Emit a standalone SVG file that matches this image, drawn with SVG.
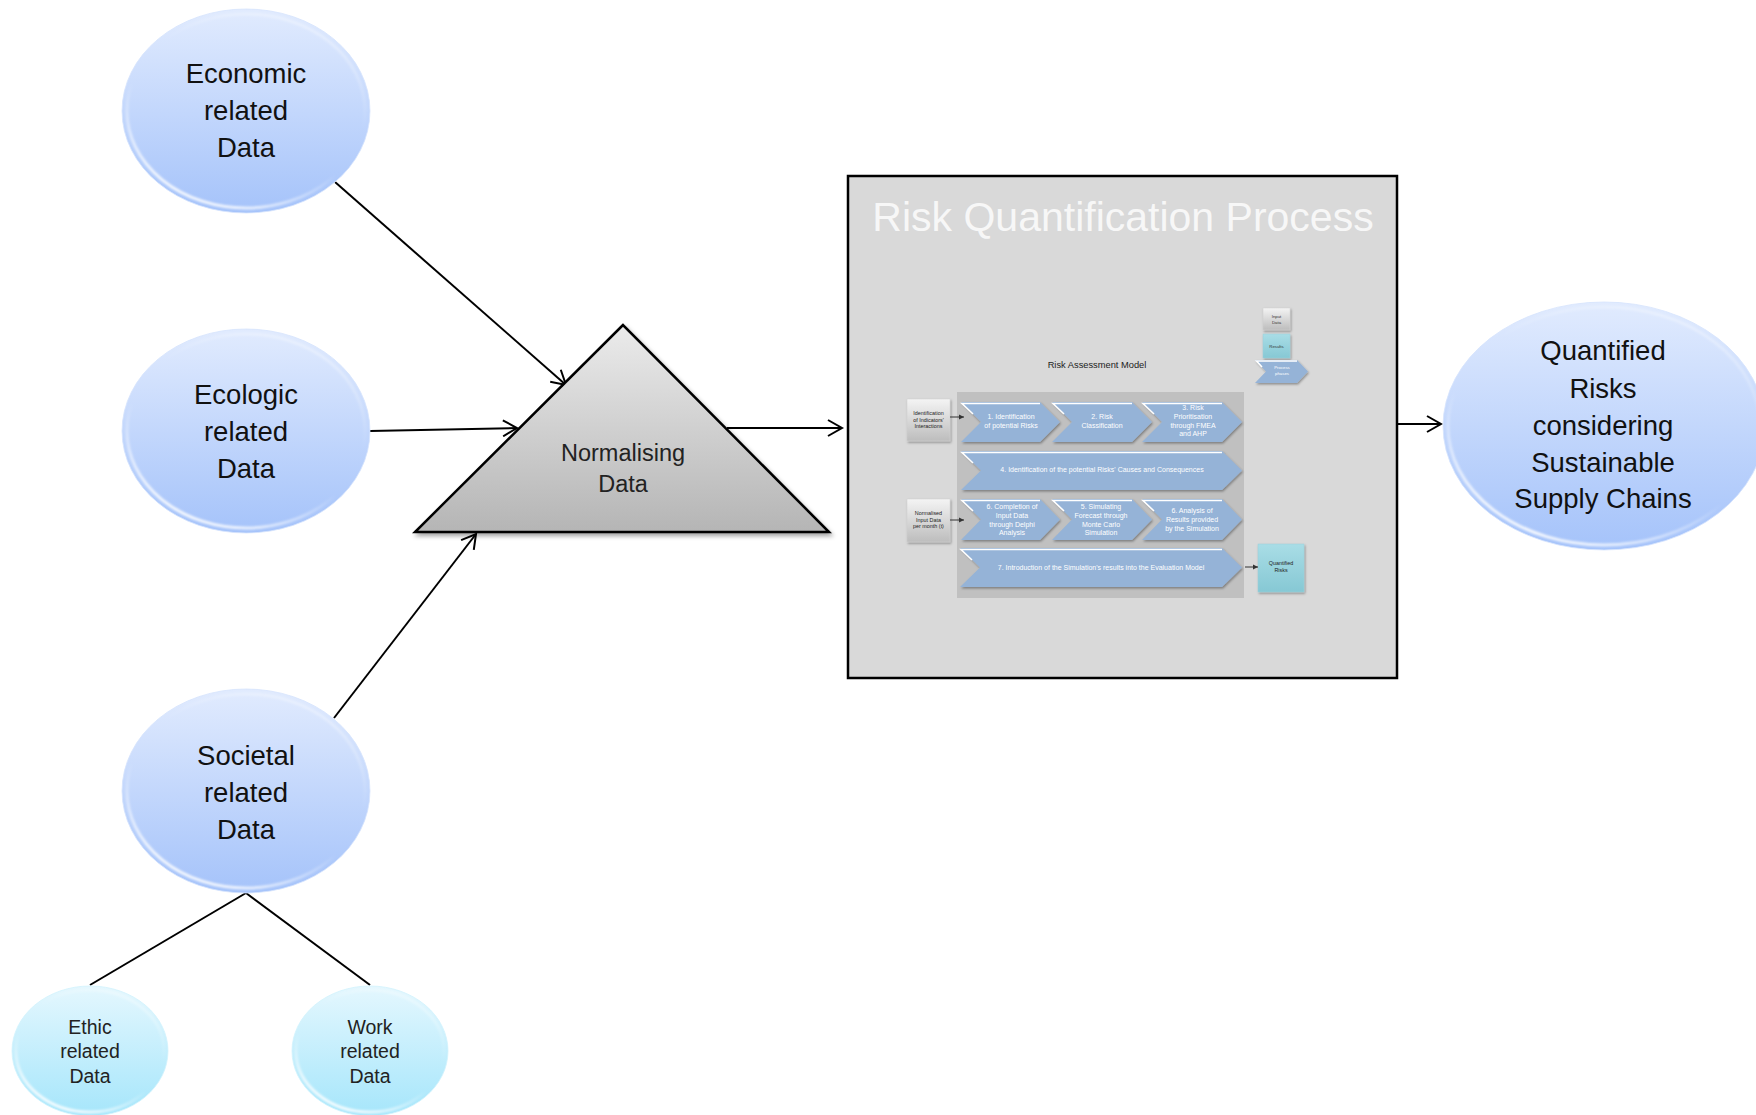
<svg xmlns="http://www.w3.org/2000/svg" width="1756" height="1115" viewBox="0 0 1756 1115">
<defs>
<linearGradient id="gBlue" x1="0" y1="0" x2="0" y2="1">
<stop offset="0" stop-color="#e1ebfe"/>
<stop offset="1" stop-color="#a5c3fa"/>
</linearGradient>
<linearGradient id="gCyan" x1="0" y1="0" x2="0" y2="1">
<stop offset="0" stop-color="#e4f7fe"/>
<stop offset="1" stop-color="#a6e6fb"/>
</linearGradient>
<linearGradient id="gRim" x1="0.75" y1="0.05" x2="0.25" y2="0.95">
<stop offset="0" stop-color="#ffffff" stop-opacity="0.35"/>
<stop offset="0.35" stop-color="#ffffff" stop-opacity="0"/>
<stop offset="0.6" stop-color="#ffffff" stop-opacity="0"/>
<stop offset="1" stop-color="#ffffff" stop-opacity="0.9"/>
</linearGradient>
<linearGradient id="gTri" x1="0" y1="0" x2="0" y2="1">
<stop offset="0" stop-color="#ebebeb"/>
<stop offset="1" stop-color="#b5b5b5"/>
</linearGradient>
<linearGradient id="gGrayBox" x1="0" y1="0" x2="0" y2="1">
<stop offset="0" stop-color="#f4f4f4"/>
<stop offset="1" stop-color="#bdbdbd"/>
</linearGradient>
<linearGradient id="gTeal" x1="0" y1="0" x2="0" y2="1">
<stop offset="0" stop-color="#a9dde6"/>
<stop offset="1" stop-color="#86c8d4"/>
</linearGradient>
<filter id="shadow" x="-10%" y="-10%" width="130%" height="130%">
<feDropShadow dx="2" dy="3" stdDeviation="2" flood-color="#000" flood-opacity="0.35"/>
</filter>
<filter id="sShadow" x="-10%" y="-10%" width="130%" height="140%">
<feDropShadow dx="1" dy="1.5" stdDeviation="1" flood-color="#000" flood-opacity="0.35"/>
</filter>
<filter id="soft" x="-5%" y="-5%" width="110%" height="110%">
<feGaussianBlur stdDeviation="0.9"/>
</filter>
<marker id="arr" markerUnits="userSpaceOnUse" markerWidth="18" markerHeight="18" refX="15" refY="9" orient="auto">
<path d="M1,1 L15,9 L1,17" fill="none" stroke="#000" stroke-width="2"/>
</marker>
<marker id="arrS" markerUnits="userSpaceOnUse" markerWidth="6" markerHeight="6" refX="5" refY="3" orient="auto">
<path d="M0,0.5 L5,3 L0,5.5 Z" fill="#333"/>
</marker>
</defs>
<style>
.big{font-family:"Liberation Sans",Arial,sans-serif;font-size:27.5px;fill:#111;text-anchor:middle}
.mid{font-family:"Liberation Sans",Arial,sans-serif;font-size:19.5px;fill:#222;text-anchor:middle}
.tri{font-family:"Liberation Sans",Arial,sans-serif;font-size:23.5px;fill:#222;text-anchor:middle}
.title{font-family:"Liberation Sans",Arial,sans-serif;font-size:41px;fill:#f7f7f7;text-anchor:middle}
.ram{font-family:"Liberation Sans",Arial,sans-serif;font-size:9.3px;fill:#222;text-anchor:middle}
.cv{font-family:"Liberation Sans",Arial,sans-serif;font-size:7px;fill:#ffffff;text-anchor:middle}
.sm{font-family:"Liberation Sans",Arial,sans-serif;font-size:5.4px;fill:#222;text-anchor:middle}
.xs{font-family:"Liberation Sans",Arial,sans-serif;font-size:4.3px;fill:#333;text-anchor:middle}
.xsw{font-family:"Liberation Sans",Arial,sans-serif;font-size:4.3px;fill:#fff;text-anchor:middle}
.ovB{fill:url(#gBlue);stroke:#d6e3fd;stroke-width:0.8}
.ovC{fill:url(#gCyan);stroke:#d2f2fd;stroke-width:0.8}
.rim{fill:none;stroke:url(#gRim);stroke-width:3;filter:url(#soft)}
.conn{stroke:#000;stroke-width:2;fill:none}
.chev{fill:#95b3d7;filter:url(#sShadow)}
.hl{fill:none;stroke:#ffffff;stroke-width:1.6}
.sbox{fill:url(#gGrayBox);stroke:#d0d0d0;stroke-width:0.5;filter:url(#sShadow)}
.tbox{fill:url(#gTeal);stroke:#9cd0da;stroke-width:0.5;filter:url(#sShadow)}
</style>
<rect width="1756" height="1115" fill="#ffffff"/>

<g id="connectors">
<line class="conn" x1="335" y1="182" x2="566" y2="385" marker-end="url(#arr)"/>
<line class="conn" x1="370" y1="431" x2="517" y2="428" marker-end="url(#arr)"/>
<line class="conn" x1="334" y1="718" x2="476" y2="534" marker-end="url(#arr)"/>
<line class="conn" x1="727" y1="428" x2="842" y2="428" marker-end="url(#arr)"/>
<line class="conn" x1="1397" y1="424" x2="1441" y2="424" marker-end="url(#arr)"/>
<line class="conn" x1="246" y1="893" x2="90" y2="985"/>
<line class="conn" x1="246" y1="893" x2="370" y2="985"/>
</g>

<g id="economic">
<ellipse class="ovB" cx="246" cy="111" rx="124" ry="102"/>
<ellipse class="rim" cx="246" cy="111" rx="119" ry="97"/>
<text class="big" x="246" y="83">Economic</text>
<text class="big" x="246" y="120">related</text>
<text class="big" x="246" y="157">Data</text>
</g>

<g id="ecologic">
<ellipse class="ovB" cx="246" cy="431" rx="124" ry="102"/>
<ellipse class="rim" cx="246" cy="431" rx="119" ry="97"/>
<text class="big" x="246" y="404">Ecologic</text>
<text class="big" x="246" y="441">related</text>
<text class="big" x="246" y="478">Data</text>
</g>

<g id="societal">
<ellipse class="ovB" cx="246" cy="791" rx="124" ry="102"/>
<ellipse class="rim" cx="246" cy="791" rx="119" ry="97"/>
<text class="big" x="246" y="765">Societal</text>
<text class="big" x="246" y="802">related</text>
<text class="big" x="246" y="839">Data</text>
</g>

<g id="ethic">
<ellipse class="ovC" cx="90" cy="1051" rx="78" ry="65"/>
<ellipse class="rim" cx="90" cy="1051" rx="74" ry="61"/>
<text class="mid" x="90" y="1034">Ethic</text>
<text class="mid" x="90" y="1058">related</text>
<text class="mid" x="90" y="1083">Data</text>
</g>

<g id="work">
<ellipse class="ovC" cx="370" cy="1051" rx="78" ry="65"/>
<ellipse class="rim" cx="370" cy="1051" rx="74" ry="61"/>
<text class="mid" x="370" y="1034">Work</text>
<text class="mid" x="370" y="1058">related</text>
<text class="mid" x="370" y="1083">Data</text>
</g>

<g id="normalising">
<polygon points="623,325 415,532 829,532" fill="url(#gTri)" stroke="#000" stroke-width="2.5" stroke-linejoin="miter" filter="url(#shadow)"/>
<text class="tri" x="623" y="461">Normalising</text>
<text class="tri" x="623" y="492">Data</text>
</g>

<g id="quantified">
<ellipse class="ovB" cx="1604" cy="426" rx="161" ry="124"/>
<ellipse class="rim" cx="1604" cy="426" rx="156" ry="119"/>
<text class="big" x="1603" y="360">Quantified</text>
<text class="big" x="1603" y="398">Risks</text>
<text class="big" x="1603" y="435">considering</text>
<text class="big" x="1603" y="472">Sustainable</text>
<text class="big" x="1603" y="508">Supply Chains</text>
</g>

<g id="process">
<rect x="848" y="176" width="549" height="502" fill="#d9d9d9" stroke="#000" stroke-width="2.5"/>
<text class="title" x="1123" y="231">Risk Quantification Process</text>

<text class="ram" x="1097" y="368">Risk Assessment Model</text>

<g id="legend">
<rect class="sbox" x="1263" y="308" width="27" height="22"/>
<text class="xs" x="1276.5" y="317.5">Input</text>
<text class="xs" x="1276.5" y="324">Data</text>
<rect class="tbox" x="1263" y="334" width="27" height="24"/>
<text class="xs" x="1276.5" y="347.5">Results</text>
<path class="chev" d="M1255,360 L1297,360 L1308,371.5 L1297,383 L1255,383 L1266,371.5 Z"/>
<polyline class="hl" points="1262,367 1256.5,361 1297,361"/>
<text class="xsw" x="1282" y="369">Process</text>
<text class="xsw" x="1282" y="375">phases</text>
</g>

<rect x="957" y="392" width="287" height="206" fill="#c0c0c0"/>

<g id="input-boxes">
<rect class="sbox" x="907" y="399" width="43" height="42"/>
<text class="sm" x="928.5" y="415">Identification</text>
<text class="sm" x="928.5" y="421.5">of Indicators'</text>
<text class="sm" x="928.5" y="428">Interactions</text>
<rect class="sbox" x="907" y="499" width="43" height="43"/>
<text class="sm" x="928.5" y="515">Normalised</text>
<text class="sm" x="928.5" y="521.5">Input Data</text>
<text class="sm" x="928.5" y="528">per month (t)</text>
<rect class="tbox" x="1258" y="544" width="46" height="48"/>
<text class="sm" x="1281" y="565">Quantified</text>
<text class="sm" x="1281" y="572">Risks</text>
<line x1="950" y1="417" x2="964" y2="417" stroke="#333" stroke-width="1" marker-end="url(#arrS)"/>
<line x1="950" y1="520" x2="964" y2="520" stroke="#333" stroke-width="1" marker-end="url(#arrS)"/>
<line x1="1245" y1="567" x2="1258" y2="567" stroke="#333" stroke-width="1" marker-end="url(#arrS)"/>
</g>

<g id="phase1">
<path class="chev" d="M961,402 L1040,402 L1060,422 L1040,442 L961,442 L981,422 Z"/>
<polyline class="hl" points="973,414 962,403.5 1040,403.5"/>
<text class="cv" x="1011" y="418.5">1. Identification</text>
<text class="cv" x="1011" y="427.5">of potential Risks</text>
</g>
<g id="phase2">
<path class="chev" d="M1052,402 L1132,402 L1152,422 L1132,442 L1052,442 L1072,422 Z"/>
<polyline class="hl" points="1064,414 1053,403.5 1132,403.5"/>
<text class="cv" x="1102" y="418.5">2. Risk</text>
<text class="cv" x="1102" y="427.5">Classification</text>
</g>
<g id="phase3">
<path class="chev" d="M1142,402 L1222,402 L1242,422 L1222,442 L1142,442 L1162,422 Z"/>
<polyline class="hl" points="1154,414 1143,403.5 1222,403.5"/>
<text class="cv" x="1193" y="409.5">3. Risk</text>
<text class="cv" x="1193" y="418.5">Prioritisation</text>
<text class="cv" x="1193" y="427.5">through FMEA</text>
<text class="cv" x="1193" y="435.5">and AHP</text>
</g>
<g id="phase4">
<path class="chev" d="M961,451 L1222,451 L1242,470.5 L1222,490 L961,490 L981,470.5 Z"/>
<polyline class="hl" points="973,463 962,452.5 1222,452.5"/>
<text class="cv" x="1102" y="472">4. Identification of the potential Risks' Causes and Consequences</text>
</g>
<g id="phase6a">
<path class="chev" d="M961,499 L1040,499 L1060,519.5 L1040,540 L961,540 L981,519.5 Z"/>
<polyline class="hl" points="973,511 962,500.5 1040,500.5"/>
<text class="cv" x="1012" y="508.5">6. Completion of</text>
<text class="cv" x="1012" y="517.5">Input Data</text>
<text class="cv" x="1012" y="526.5">through Delphi</text>
<text class="cv" x="1012" y="534.5">Analysis</text>
</g>
<g id="phase5">
<path class="chev" d="M1052,499 L1132,499 L1152,519.5 L1132,540 L1052,540 L1072,519.5 Z"/>
<polyline class="hl" points="1064,511 1053,500.5 1132,500.5"/>
<text class="cv" x="1101" y="508.5">5. Simulating</text>
<text class="cv" x="1101" y="517.5">Forecast through</text>
<text class="cv" x="1101" y="526.5">Monte Carlo</text>
<text class="cv" x="1101" y="534.5">Simulation</text>
</g>
<g id="phase6b">
<path class="chev" d="M1142,499 L1222,499 L1242,519.5 L1222,540 L1142,540 L1162,519.5 Z"/>
<polyline class="hl" points="1154,511 1143,500.5 1222,500.5"/>
<text class="cv" x="1192" y="512.5">6. Analysis of</text>
<text class="cv" x="1192" y="521.5">Results provided</text>
<text class="cv" x="1192" y="530.5">by the Simulation</text>
</g>
<g id="phase7">
<path class="chev" d="M960,548 L1222,548 L1242,567.5 L1222,587 L960,587 L980,567.5 Z"/>
<polyline class="hl" points="972,560 961,549.5 1222,549.5"/>
<text class="cv" x="1101" y="569.5">7. Introduction of the Simulation's results into the Evaluation Model</text>
</g>
</g>
</svg>
